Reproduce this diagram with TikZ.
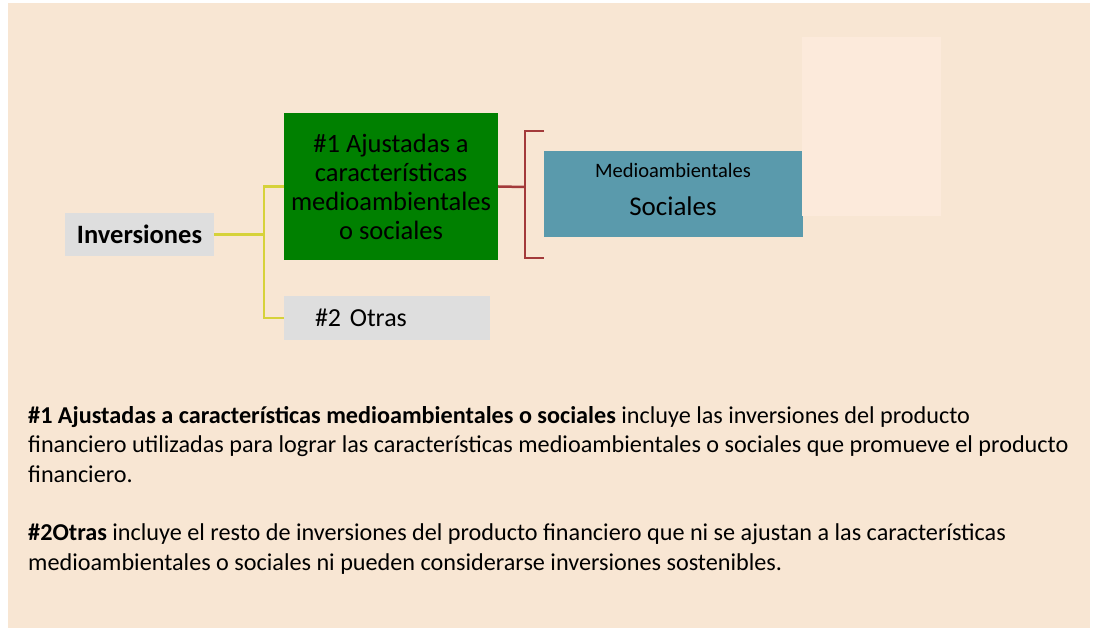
\documentclass[tikz,border=0pt]{standalone}
\usepackage{fontspec}
\setmainfont{Carlito}
\definecolor{bg}{HTML}{F8E6D3}
\definecolor{lightbox}{HTML}{FCEADB}
\definecolor{grayb}{HTML}{DEDEDE}
\definecolor{greenb}{HTML}{008000}
\definecolor{tealb}{HTML}{5A9AAC}
\definecolor{yel}{HTML}{D6D23A}
\definecolor{redl}{HTML}{A33A3A}
\begin{document}
\begin{tikzpicture}[x=1pt,y=-1pt,
  box/.style={draw=none,inner sep=0pt,align=center},
  yconn/.style={draw=yel,line width=2.5pt},
  rconn/.style={draw=redl,line width=2.5pt},
  para/.style={anchor=west,inner sep=0pt,align=left,font=\fontsize{24.2}{29.5}\selectfont}]
\useasboundingbox (0,0) rectangle (1094,628);
\fill[white] (0,0) rectangle (1094,628);
\fill[bg] (8,3) rectangle (1090,628);
% boxes
\node[box,fill=grayb,minimum width=149pt,minimum height=43pt,font=\fontsize{26.5}{30}\selectfont\bfseries] (inv) at (139.5,234.5) {Inversiones};
\node[box,fill=greenb,minimum width=214pt,minimum height=147pt,font=\fontsize{26.5}{29}\selectfont] (green) at (391,186.5) {\#1 Ajustadas a\\características\\medioambientales\\o sociales};
\node[box,fill=grayb,minimum width=206pt,minimum height=44pt,text width=175pt,inner xsep=0pt,align=left,font=\fontsize{26}{30}\selectfont] (otras) at (387,318) {\hspace*{15.5pt}\#2 Otras};
\node[box,fill=tealb,minimum width=259pt,minimum height=86pt] (teal) at (673.5,194) {};
\node[box,font=\fontsize{20.5}{24}\selectfont] (tmed) at (673,170) {Medioambientales};
\node[box,font=\fontsize{27}{30}\selectfont] (tsoc) at (673,206) {Sociales};
\fill[lightbox] (802,37) rectangle (941,216);
% connectors
\coordinate (jy) at (264,234.5);
\draw[yconn] (inv.east) -- (jy);
\draw[yconn] (green.west) -| (jy) |- (otras.west);
\coordinate (jr) at (525,187);
\coordinate (rt) at (544,131);
\coordinate (rb) at (544,258);
\draw[rconn] (green.east) -- (jr);
\draw[rconn] (rt) -| (jr) |- (rb);
% paragraphs
\node[para] (p1) at (28,444.5) {\textbf{\#1 Ajustadas a características medioambientales o sociales} incluye las inversiones del producto\\financiero utilizadas para lograr las características medioambientales o sociales que promueve el producto\\financiero.};
\node[para] (p2) at (28,549) {\textbf{\#2Otras} incluye el resto de inversiones del producto financiero que ni se ajustan a las características\\medioambientales o sociales ni pueden considerarse inversiones sostenibles.};
\end{tikzpicture}
\end{document}
